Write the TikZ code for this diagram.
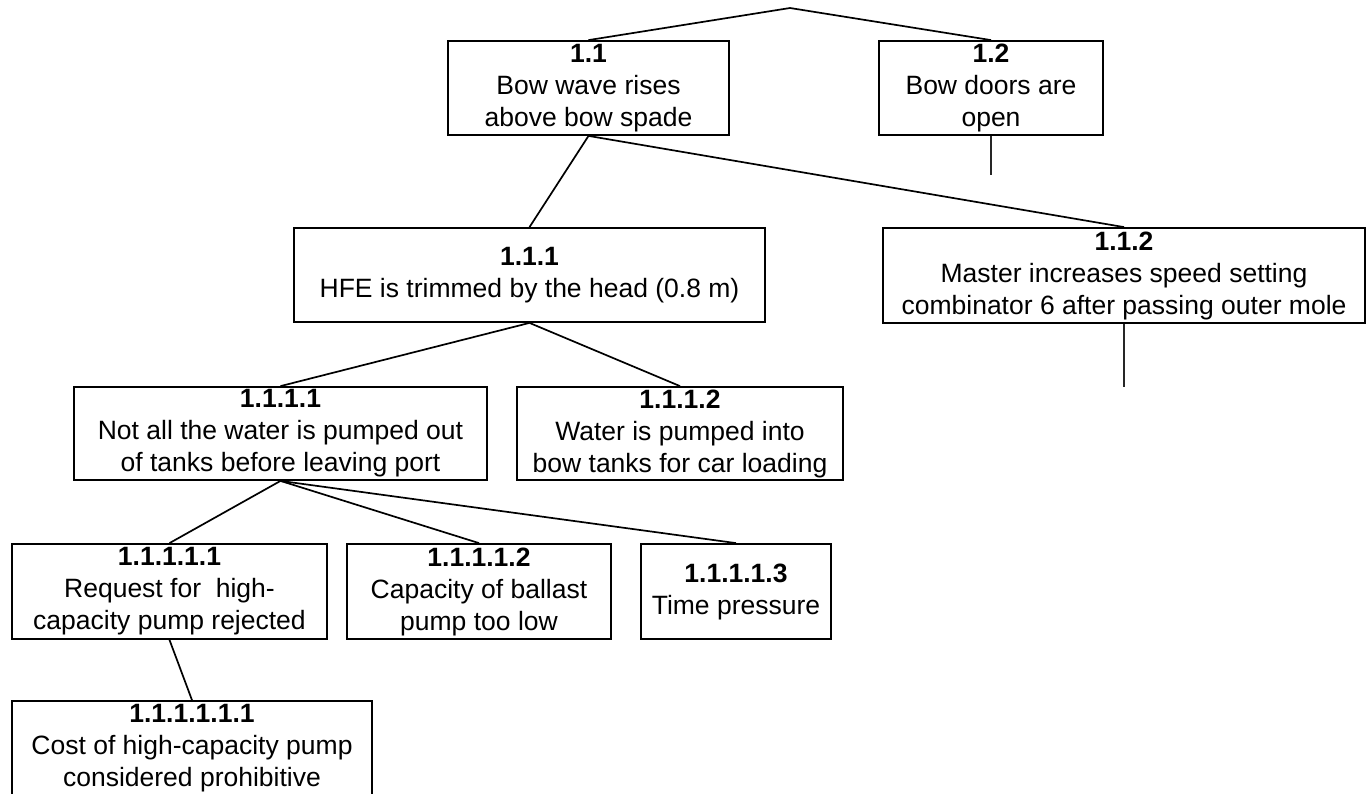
\documentclass[tikz,border=0pt]{standalone}
\usepackage{fontspec}
\setmainfont{Liberation Sans}
\begin{document}
\begin{tikzpicture}[x=1pt,y=-1pt,
  box/.style={draw=black, line width=1.8pt, rectangle, inner sep=0pt,
    align=center, font=\fontsize{26.5}{32}\selectfont},
  link/.style={draw=black, line width=1.7pt},
  stub/.style={draw=black!85, line width=1.3pt}]
\useasboundingbox (0,0) rectangle (1367,793);

% level 1
\node[box, minimum width=281, minimum height=94] (n11) at (588.5,88)
  {\textbf{1.1}\\Bow wave rises\\above bow spade};
\node[box, minimum width=224, minimum height=94] (n12) at (991,88)
  {\textbf{1.2}\\Bow doors are\\open};

% level 2
\node[box, minimum width=471, minimum height=94] (n111) at (529.5,275)
  {\textbf{1.1.1}\\HFE is trimmed by the head (0.8 m)};
\node[box, minimum width=482, minimum height=95] (n112) at (1124,275.5)
  {\textbf{1.1.2}\\Master increases speed setting\\combinator 6 after passing outer mole};

% level 3
\node[box, minimum width=413, minimum height=93] (n1111) at (280.5,433.5)
  {\textbf{1.1.1.1}\\Not all the water is pumped out\\of tanks before leaving port};
\node[box, minimum width=326, minimum height=93] (n1112) at (680,433.5)
  {\textbf{1.1.1.2}\\Water is pumped into\\bow tanks for car loading};

% level 4
\node[box, minimum width=315, minimum height=95] (n11111) at (169.5,591.5)
  {\textbf{1.1.1.1.1}\\Request for~ high-\\capacity pump rejected};
\node[box, minimum width=264, minimum height=95] (n11112) at (479,591.5)
  {\textbf{1.1.1.1.2}\\Capacity of ballast\\pump too low};
\node[box, minimum width=190, minimum height=95] (n11113) at (736,591.5)
  {\textbf{1.1.1.1.3}\\Time pressure};

% level 5
\node[box, minimum width=360, minimum height=94] (n111111) at (192,748)
  {\textbf{1.1.1.1.1.1}\\Cost of high-capacity pump\\considered prohibitive};

% top of the tree and open ends
\coordinate (top) at (790,8);
\coordinate (end12) at (991,175);
\coordinate (end112) at (1124,387);

\draw[link] (n11.north) -- (top) -- (n12.north);
\draw[link] (n11.south) -- (n111.north);
\draw[link] (n11.south) -- (n112.north);
\draw[link] (n111.south) -- (n1111.north);
\draw[link] (n111.south) -- (n1112.north);
\draw[link] (n1111.south) -- (n11111.north);
\draw[link] (n1111.south) -- (n11112.north);
\draw[link] (n1111.south) -- (n11113.north);
\draw[link] (n11111.south) -- (n111111.north);
\draw[stub] (n12.south) -- (end12);
\draw[stub] (n112.south) -- (end112);
\end{tikzpicture}
\end{document}
